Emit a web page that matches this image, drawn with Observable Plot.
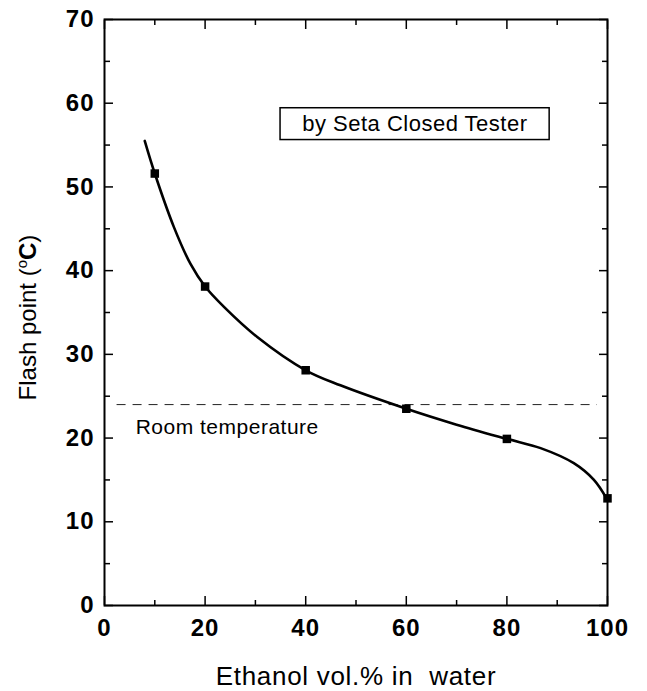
<!DOCTYPE html>
<html><head><meta charset="utf-8">
<script src="https://cdn.jsdelivr.net/npm/d3@7"></script>
<script src="https://cdn.jsdelivr.net/npm/@observablehq/plot@0.6"></script>
<style>
body{margin:0;background:#fff}
svg{font-family:"Liberation Sans",Arial,Helvetica,sans-serif}
</style>
</head><body><div id="chart"></div>
<script>
// measured points
const ethanol = [10, 20, 40, 60, 80, 100];
const flashPoint = [51.6, 38.1, 28.1, 23.5, 19.9, 12.8];
// fitted curve
const curveEthanol = [8.0, 10, 13.8, 17.1, 20, 23.7, 30.3, 40, 46.9, 60, 70, 80, 86.7, 93.3, 97.3, 99.8];
const curveFlash   = [55.5, 51.6, 45.2, 40.8, 38.1, 35.7, 32.1, 28.1, 26.3, 23.5, 21.6, 19.9, 18.8, 17.0, 15.0, 12.8];
// room temperature reference line
const roomTemp = [24.0];
const roomFrom = [2.5];
const roomTo = [98];
const roomLabel = ["Room temperature"];
const roomLabelX = [6.2];
const roomLabelY = [21.3];
// legend box
const boxLabel = ["by Seta Closed Tester"];
const boxX1 = [35.0], boxX2 = [88.5], boxY1 = [55.6], boxY2 = [59.4];
const boxTextX = [61.7], boxTextY = [57.5];
// ticks
const xMajor = [0, 20, 40, 60, 80, 100];
const xMinor = [10, 30, 50, 70, 90];
const yMajor = [0, 10, 20, 30, 40, 50, 60, 70];
const yMinor = [5, 15, 25, 35, 45, 55, 65];
const xTitle = "Ethanol vol.% in  water";
const yTitle = "Flash point (°C)";

const points = ethanol.map((e, i) => ({e, f: flashPoint[i]}));
const curve = curveEthanol.map((e, i) => ({e, f: curveFlash[i]}));
const room = roomTemp.map((t, i) => ({t, x1: roomFrom[i], x2: roomTo[i], label: roomLabel[i], lx: roomLabelX[i], ly: roomLabelY[i]}));
const box = boxLabel.map((b, i) => ({b, x1: boxX1[i], x2: boxX2[i], y1: boxY1[i], y2: boxY2[i], tx: boxTextX[i], ty: boxTextY[i]}));
const blank = () => "";

const chart = Plot.plot({
  width: 647,
  height: 691,
  marginLeft: 104,
  marginRight: 40,
  marginTop: 19,
  marginBottom: 86,
  style: {fontFamily: "'Liberation Sans', Arial, sans-serif", background: "#fff", color: "#000"},
  x: {domain: [0, 100]},
  y: {domain: [0, 70]},
  marks: [
    // inward ticks
    Plot.axisX({anchor: "bottom", ticks: xMajor, tickSize: -9, tickFormat: blank, label: null, strokeWidth: 1.5}),
    Plot.axisX({anchor: "bottom", ticks: xMinor, tickSize: -5, tickFormat: blank, label: null, strokeWidth: 1.5}),
    Plot.axisX({anchor: "top", ticks: xMajor, tickSize: -9, tickFormat: blank, label: null, strokeWidth: 1.5}),
    Plot.axisX({anchor: "top", ticks: xMinor, tickSize: -5, tickFormat: blank, label: null, strokeWidth: 1.5}),
    Plot.axisY({anchor: "left", ticks: yMajor, tickSize: -9, tickFormat: blank, label: null, strokeWidth: 1.5}),
    Plot.axisY({anchor: "left", ticks: yMinor, tickSize: -6, tickFormat: blank, label: null, strokeWidth: 1.5}),
    Plot.axisY({anchor: "right", ticks: yMajor, tickSize: -9, tickFormat: blank, label: null, strokeWidth: 1.5}),
    Plot.axisY({anchor: "right", ticks: yMinor, tickSize: -6, tickFormat: blank, label: null, strokeWidth: 1.5}),
    // tick labels
    Plot.axisX({anchor: "bottom", ticks: xMajor, tickSize: 0, tickPadding: 13, label: null, fontSize: 24, fontWeight: "bold", fill: "#000"}),
    Plot.axisY({anchor: "left", ticks: yMajor, tickSize: 0, tickPadding: 10, label: null, fontSize: 24, fontWeight: "bold", fill: "#000"}),
    // axis titles
    Plot.axisX({anchor: "bottom", ticks: [], label: xTitle, labelAnchor: "center", labelArrow: "none", labelOffset: 79, fontSize: 26, fill: "#000"}),
    Plot.axisY({anchor: "left", ticks: [], label: yTitle, labelAnchor: "center", labelArrow: "none", labelOffset: 86, fontSize: 24, fill: "#000"}),
    Plot.frame({stroke: "#000", strokeWidth: 2}),
    // room temperature
    Plot.ruleY(room, {y: "t", x1: "x1", x2: "x2", stroke: "#222", strokeWidth: 1, strokeDasharray: "9,7"}),
    Plot.text(room, {x: "lx", y: "ly", text: "label", textAnchor: "start", lineAnchor: "middle", fontSize: 21, fill: "#000"}),
    // box
    Plot.rect(box, {x1: "x1", x2: "x2", y1: "y1", y2: "y2", fill: "none", stroke: "#000", strokeWidth: 1.5}),
    Plot.text(box, {x: "tx", y: "ty", text: "b", lineAnchor: "middle", fontSize: 22, fill: "#000"}),
    // data
    Plot.line(curve, {x: "e", y: "f", curve: "catmull-rom", stroke: "#000", strokeWidth: 2.6}),
    Plot.dot(points, {x: "e", y: "f", symbol: "square", r: 4.8, fill: "#000", stroke: "none"})
  ]
});
document.getElementById("chart").appendChild(chart);

// superscript degree and bold C in the y title; letter spacing to match the scan
d3.select(chart).selectAll("text").each(function() {
  const t = d3.select(this);
  const s = t.text();
  if (s === yTitle) {
    t.text(null);
    t.append("tspan").attr("dx", "-5").text("Flash point (");
    t.append("tspan").attr("font-size", "15").attr("dy", "-9").text("o");
    t.append("tspan").attr("font-weight", "bold").attr("dy", "9").text("C");
    t.append("tspan").text(")");
  } else if (s === xTitle) {
    t.attr("xml:space", "preserve").style("white-space", "pre").attr("letter-spacing", "0.7");
  } else if (s === roomLabel[0] || s === boxLabel[0]) {
    t.attr("letter-spacing", "0.5");
  } else if (/^\d+$/.test(s)) {
    t.attr("letter-spacing", "1");
  }
});
</script>
</body></html>
